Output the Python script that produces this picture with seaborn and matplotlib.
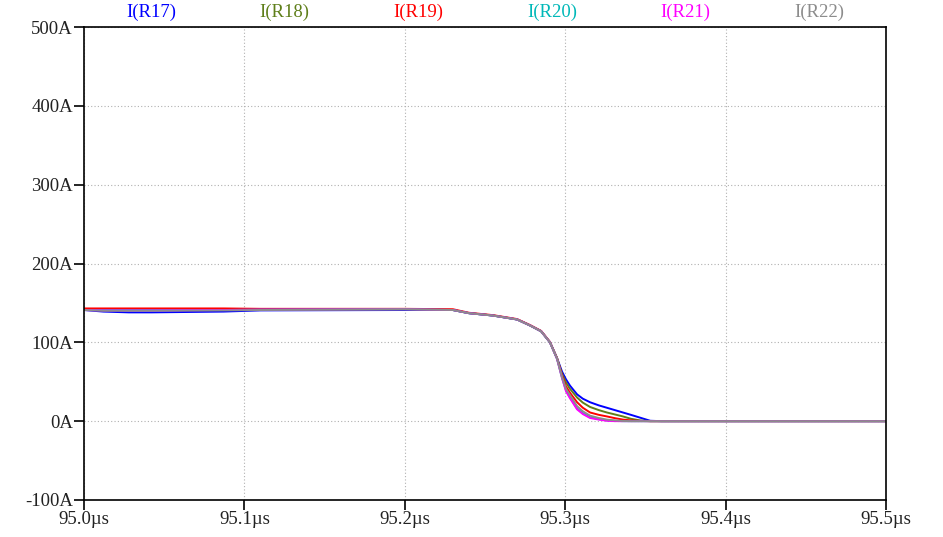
import numpy as np
import pandas as pd
import matplotlib
matplotlib.use("Agg")
import matplotlib.pyplot as plt
import seaborn as sns
from matplotlib.ticker import FuncFormatter

# Sample times in microseconds
t_us = [95.000, 95.012, 95.028, 95.042, 95.087, 95.110, 95.200,
        95.230, 95.240, 95.255, 95.270, 95.278, 95.285, 95.2905, 95.2925, 95.2949,
        95.298, 95.3005, 95.303, 95.3074, 95.311, 95.3155, 95.321, 95.326, 95.331,
        95.336, 95.341, 95.3466, 95.353, 95.360, 95.500]

# Resistor currents in amperes
i_r17 = [141, 139, 138, 138, 139, 140.5, 141,
         141, 137, 134, 129, 121.5, 114, 100, 91, 80,
         63, 53, 45, 34, 28.5, 24, 20, 17, 14,
         11, 8, 4.5, 0.5, 0, 0]
i_r18 = [141, 141, 141, 141, 141, 141.5, 142,
         141, 137, 134, 129, 121.5, 114, 100, 91, 80,
         60, 49, 41, 30, 23.5, 18, 14, 11, 8.5,
         6, 3, 1, 0, 0, 0]
i_r19 = [143, 143, 143, 143, 143, 142.5, 142.5,
         142, 137.5, 134.5, 129.5, 122, 114.5, 100.5, 91, 80,
         58, 44, 36, 24, 17, 11, 8, 6, 3.8,
         2, 1, 0.3, 0, 0, 0]
i_r20 = [141, 141, 141, 141, 141, 141.5, 142,
         141, 137, 134, 129, 121.5, 114, 100, 90.5, 79,
         55, 39, 30, 16, 10, 5, 2.5, 1, 0.3,
         0, 0, 0, 0, 0, 0]
i_r21 = [141, 140.5, 140.5, 140.5, 141, 141.5, 142,
         141, 137, 134, 129, 121.5, 114, 100, 90.5, 79,
         55, 38, 29, 15, 9, 4, 2, 0.5, 0,
         0, 0, 0, 0, 0, 0]
i_r22 = [141, 140, 140, 140, 140.5, 141, 142,
         141, 137, 134, 129, 121.5, 114, 100, 90.5, 79.5,
         56, 41, 33, 19, 12.5, 7, 4, 2, 1,
         0.3, 0, 0, 0, 0, 0]

labels = ["I(R17)", "I(R18)", "I(R19)", "I(R20)", "I(R21)", "I(R22)"]
colors = ["#0000ff", "#5f7f1a", "#ff0000", "#00b8b8", "#ff00ff", "#8c8c8c"]
series = [i_r17, i_r18, i_r19, i_r20, i_r21, i_r22]

y_ticks = [-100, 0, 100, 200, 300, 400, 500]
x_ticks = [95.0, 95.1, 95.2, 95.3, 95.4, 95.5]

df = pd.concat(
    [pd.DataFrame({"t": t_us, "i": vals, "trace": name}) for name, vals in zip(labels, series)],
    ignore_index=True,
)

sns.set_theme(style="white")
plt.rcParams["font.family"] = ["Liberation Serif", "DejaVu Serif"]

fig = plt.figure(figsize=(9.43, 5.37), dpi=100)
ax = fig.add_axes([84 / 943, 1 - 500 / 537, (886 - 84) / 943, (500 - 27) / 537])

sns.lineplot(data=df, x="t", y="i", hue="trace", palette=dict(zip(labels, colors)),
             estimator=None, sort=False, linewidth=1.4, legend=False, ax=ax)

ax.set_xlim(95.0, 95.5)
ax.set_ylim(-100, 500)
ax.set_xticks(x_ticks)
ax.set_yticks(y_ticks)
ax.xaxis.set_major_formatter(FuncFormatter(lambda v, p: f"{v:.1f}\u00b5s"))
ax.yaxis.set_major_formatter(FuncFormatter(lambda v, p: f"{v:.0f}A"))
ax.set_xlabel("")
ax.set_ylabel("")

ax.grid(True, color="#b0b0b0", linestyle=(0, (1, 2)), linewidth=0.8)
for s in ax.spines.values():
    s.set_visible(True)
    s.set_color("black")
    s.set_linewidth(1.2)

ax.tick_params(axis="both", which="major", direction="out", length=7, width=1.2,
               color="black", labelsize=13.5, labelcolor="#222222", pad=1,
               left=True, bottom=True)

for k, (name, col) in enumerate(zip(labels, colors)):
    ax.text((k + 0.5) / 6, 1.012, name, color=col, fontsize=13.5,
            ha="center", va="bottom", transform=ax.transAxes)

fig.savefig("out.png", dpi=100)
